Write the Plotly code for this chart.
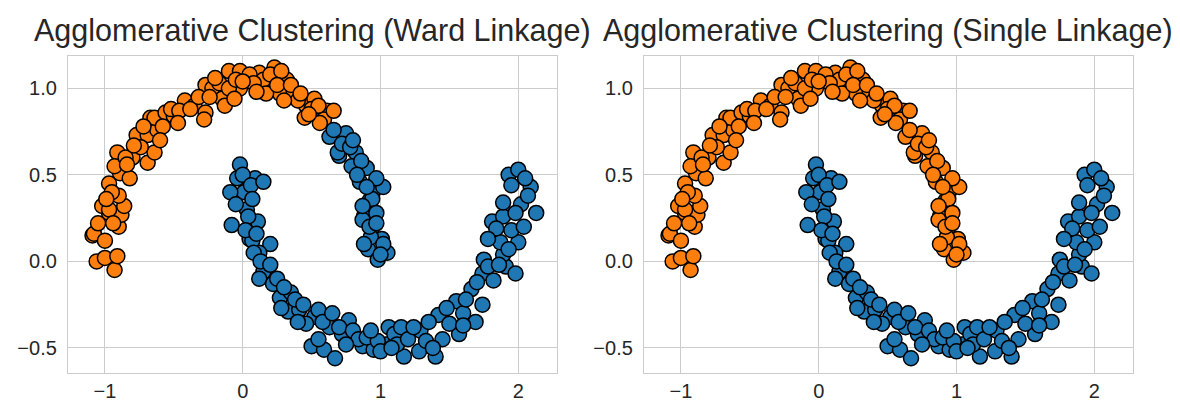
import plotly.graph_objects as go

# Upper moon, left/apex part (orange in both clusterings)
upper_a_x = [-1.09, -1.06, -0.93, -1.00, -0.91, -1.08, -1.00, -0.90, -0.97, -0.88, -1.02, -0.97, -0.86,
             -0.90, -0.97, -0.89, -0.82, -0.91, -0.80, -0.69, -0.64, -0.77, -0.69, -0.62, -0.67, -0.64,
             -0.56, -0.50, -0.42, -0.35, -0.27, -0.28, -0.27, -0.22, -0.17, -0.15, -0.13, -0.10, -0.02,
             -0.02, -0.10, -0.06, 0.12, 0.23, 0.15, 0.32, 0.27, 0.37, 0.17, 0.46, 0.52, 0.45, 0.61, 0.59,
             0.66, -1.05, -0.95, -0.93, -0.85, -0.74, -0.72, -0.58, -0.52, -0.46, -0.38, -0.32, -0.24,
             -0.20, -0.05, 0.05, 0.08, 0.20, 0.28, 0.25, 0.35, 0.40, 0.42, 0.50, 0.55, 0.56, 0.48, -0.99,
             -0.94, -0.84, -0.79, -0.60, -0.47, 0.00, 0.10, 0.30]
upper_a_y = [0.15, 0.00, -0.05, 0.02, 0.03, 0.16, 0.12, 0.20, 0.28, 0.27, 0.32, 0.30, 0.32,
             0.38, 0.45, 0.51, 0.48, 0.63, 0.60, 0.57, 0.63, 0.73, 0.73, 0.76, 0.83, 0.83,
             0.86, 0.84, 0.93, 0.90, 0.86, 0.82, 1.02, 1.00, 1.03, 0.94, 0.90, 1.10, 1.10,
             1.00, 1.00, 0.94, 1.09, 1.12, 1.05, 1.05, 0.97, 0.98, 0.97, 0.90, 0.94, 0.83, 0.87, 0.82,
             0.87, 0.22, 0.40, 0.55, 0.60, 0.66, 0.78, 0.78, 0.88, 0.87, 0.88, 0.95, 0.95,
             1.06, 1.05, 1.08, 1.03, 1.08, 1.10, 1.02, 1.02, 0.93, 0.97, 0.88, 0.90, 0.80, 0.85, 0.36,
             0.22, 0.56, 0.67, 0.70, 0.80, 1.04, 0.98, 0.93]

# Upper moon, right tip (blue with Ward, orange with single linkage)
upper_b_x = [0.63, 0.75, 0.70, 0.82, 0.79, 0.90, 0.85, 0.95, 1.02, 0.92, 0.88, 0.94, 0.94, 1.05, 0.91,
             0.98, 1.01, 0.87, 0.93, 1.02, 0.69, 0.72, 0.78, 0.86, 0.83, 0.97, 0.90, 0.87, 0.97, 0.92,
             0.97, 1.00, 0.88, 0.66, 0.80]
upper_b_y = [0.72, 0.74, 0.61, 0.63, 0.55, 0.54, 0.46, 0.41, 0.43, 0.35, 0.26, 0.36, 0.15, 0.05, 0.07,
             0.01, 0.13, 0.24, 0.14, 0.10, 0.63, 0.68, 0.66, 0.58, 0.50, 0.48, 0.43, 0.32, 0.28, 0.20,
             0.22, 0.04, 0.10, 0.76, 0.70]

# Lower moon (blue in both clusterings)
lower_x = [-0.02, 0.09, -0.04, 0.01, -0.09, 0.03, -0.08, 0.11, 0.05, 0.20, 0.12, 0.17, 0.04, 0.07, 0.08,
           0.15, 0.12, 0.22, 0.27, 0.35, 0.33, 0.41, 0.52, 0.46, 0.50, 0.59, 0.67, 0.72, 0.77, 0.63,
           0.87, 0.95, 1.04, 1.06, 1.10, 1.17, 1.28, 1.40, 1.29, 1.42, 1.57, 1.69, 1.55, 1.66, 1.74,
           1.75, 1.74, 1.82, 1.91, 1.98, 1.89, 2.00, 1.87, 1.81, 1.89, 2.13, 1.93, 2.00, 2.09, 1.89,
           2.02, 2.07, 1.95, 1.84, 1.78, 0.00, 0.06, -0.05, 0.02, 0.10, 0.13, 0.20, 0.25, 0.30, 0.38,
           0.28, 0.44, 0.55, 0.58, 0.65, 0.70, 0.80, 0.84, 0.90, 0.75, 0.98, 1.00, 1.12, 1.15, 1.20,
           1.24, 1.33, 1.35, 1.45, 1.50, 1.48, 1.60, 1.62, 1.70, 1.78, 1.86, 1.93, 1.95, 2.04, 1.98,
           2.05, 0.55, 0.40, 0.93, 1.08, 1.38, 1.60, 0.15, 0.07]
lower_y = [0.56, 0.48, 0.48, 0.40, 0.40, 0.30, 0.21, 0.23, 0.13, 0.10, 0.05, -0.05, 0.26, 0.12, 0.05,
           -0.06, -0.10, -0.13, -0.21, -0.18, -0.29, -0.28, -0.32, -0.36, -0.49, -0.51, -0.56, -0.42, -0.34, -0.38,
           -0.49, -0.51, -0.48, -0.38, -0.42, -0.55, -0.52, -0.55, -0.40, -0.31, -0.42, -0.35, -0.23, -0.16, -0.25,
           0.01, -0.07, -0.11, -0.03, -0.07, 0.04, 0.11, 0.11, 0.23, 0.26, 0.28, 0.50, 0.53, 0.43, 0.34,
           0.33, 0.38, 0.44, 0.19, 0.13, 0.50, 0.44, 0.33, 0.18, 0.16, 0.00, -0.02, -0.10, -0.15, -0.22,
           -0.27, -0.25, -0.28, -0.35, -0.30, -0.38, -0.40, -0.45, -0.44, -0.48, -0.46, -0.52, -0.48, -0.38, -0.45,
           -0.38, -0.46, -0.35, -0.45, -0.36, -0.27, -0.30, -0.22, -0.12, -0.03, -0.02, 0.07, 0.18, 0.20, 0.28,
           0.48, -0.45, -0.35, -0.40, -0.50, -0.50, -0.37, 0.46, 0.36]

titles = ["Agglomerative Clustering (Ward Linkage)", "Agglomerative Clustering (Single Linkage)"]
x_ticks = [-1, 0, 1, 2]
y_ticks = [-0.5, 0.0, 0.5, 1.0]

ORANGE = "#ff7f0e"
BLUE = "#1f77b4"
W, H = 1180, 401


def marker(color):
    return dict(size=15, color=color, line=dict(color="black", width=1.5))


fig = go.Figure()

panels = [
    ("x", "y", [ORANGE, BLUE, BLUE]),   # Ward
    ("x2", "y2", [ORANGE, ORANGE, BLUE]),  # Single
]
for xa, ya, cols in panels:
    for (xs, ys), c in zip([(upper_a_x, upper_a_y), (upper_b_x, upper_b_y), (lower_x, lower_y)], cols):
        fig.add_trace(go.Scatter(x=xs, y=ys, mode="markers", marker=marker(c),
                                 xaxis=xa, yaxis=ya, showlegend=False, hoverinfo="skip",
                                 cliponaxis=False))

font = "Liberation Sans, Arial, Helvetica, sans-serif"
ax_common = dict(showgrid=True, gridcolor="#cccccc", gridwidth=1, zeroline=False,
                 showline=True, linecolor="#cccccc", linewidth=1.3, mirror=True,
                 ticks="", automargin=False,
                 tickfont=dict(family=font, size=20, color="#262626"))

xdom1 = [68 / W, 557 / W]
xdom2 = [644 / W, 1133 / W]
ydom = [1 - 373 / H, 1 - 56 / H]
xr = [-1.268, 2.281]
yr = [-0.645, 1.187]

fig.update_layout(
    width=W, height=H, margin=dict(l=0, r=0, t=0, b=0, autoexpand=False),
    paper_bgcolor="white", plot_bgcolor="white",
    xaxis=dict(domain=xdom1, range=xr, tickvals=x_ticks, anchor="y", ticklabelstandoff=0, **ax_common),
    yaxis=dict(domain=ydom, range=yr, tickvals=y_ticks, tickformat=".1f", anchor="x", ticklabelstandoff=6, **ax_common),
    xaxis2=dict(domain=xdom2, range=xr, tickvals=x_ticks, anchor="y2", ticklabelstandoff=0, **ax_common),
    yaxis2=dict(domain=ydom, range=yr, tickvals=y_ticks, tickformat=".1f", anchor="x2", ticklabelstandoff=6, **ax_common),
)

for t, dom in zip(titles, [xdom1, xdom2]):
    fig.add_annotation(text=t, x=(dom[0] + dom[1]) / 2, y=1 - 30 / H, xref="paper", yref="paper",
                       xanchor="center", yanchor="middle", showarrow=False,
                       font=dict(family=font, size=30.5, color="#262626"))

fig.write_html("out.html", config={"displayModeBar": False},
               post_script="document.body.style.margin='0';document.body.style.overflow='hidden';")
